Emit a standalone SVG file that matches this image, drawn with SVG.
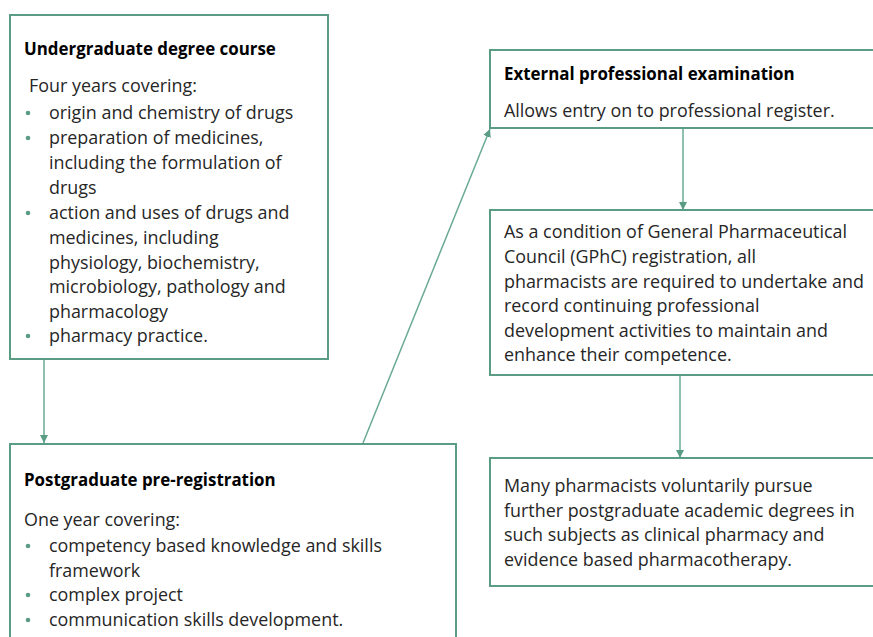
<svg xmlns="http://www.w3.org/2000/svg" width="873" height="637" viewBox="0 0 873 637">
<defs>
<style>
.box{fill:#ffffff;stroke:#5a9c84;stroke-width:2}
.t{font-family:"Open Sans",Lato,sans-serif;font-size:17.9px;fill:#262626}
.b{font-weight:bold;fill:#000000;font-size:16.9px}
.bul{fill:#5a9c84}
.con{stroke:#6aaa94;stroke-width:1.5;fill:none}
</style>
<marker id="ah" viewBox="0 0 10 10" refX="10" refY="5" markerWidth="8" markerHeight="8" markerUnits="userSpaceOnUse" orient="auto">
<path d="M0,0 L10,5 L0,10 z" fill="#5a9c84"/>
</marker>
</defs>
<rect width="873" height="637" fill="#ffffff"/>
<g id="connectors">
<line class="con" x1="44" y1="360" x2="44" y2="443" marker-end="url(#ah)"/>
<line class="con" x1="363" y1="443" x2="490" y2="129" marker-end="url(#ah)"/>
<line class="con" x1="683" y1="129" x2="683" y2="210" marker-end="url(#ah)"/>
<line class="con" x1="680" y1="376" x2="680" y2="458" marker-end="url(#ah)"/>
</g>
<g id="undergrad">
<rect class="box" x="10" y="15" width="318" height="344"/>
<text class="t b" x="24" y="55">Undergraduate degree course</text>
<text class="t" x="29" y="92">Four years covering:</text>
<g class="bul"><circle cx="28" cy="113" r="2.3"/><circle cx="28" cy="138" r="2.3"/><circle cx="28" cy="213" r="2.3"/><circle cx="28" cy="336" r="2.3"/></g>
<text class="t" x="49" y="119">origin and chemistry of drugs</text>
<text class="t" x="49" y="144">preparation of medicines,</text>
<text class="t" x="49" y="169">including the formulation of</text>
<text class="t" x="49" y="194">drugs</text>
<text class="t" x="49" y="219">action and uses of drugs and</text>
<text class="t" x="49" y="244">medicines, including</text>
<text class="t" x="49" y="269">physiology, biochemistry,</text>
<text class="t" x="49" y="293">microbiology, pathology and</text>
<text class="t" x="49" y="318">pharmacology</text>
<text class="t" x="49" y="342">pharmacy practice.</text>
</g>
<g id="postgrad">
<rect class="box" x="10" y="444" width="446" height="210"/>
<text class="t b" x="24" y="486">Postgraduate pre-registration</text>
<text class="t" x="24" y="526">One year covering:</text>
<g class="bul"><circle cx="28" cy="546" r="2.3"/><circle cx="28" cy="595" r="2.3"/><circle cx="28" cy="620" r="2.3"/></g>
<text class="t" x="49" y="552">competency based knowledge and skills</text>
<text class="t" x="49" y="577">framework</text>
<text class="t" x="49" y="601">complex project</text>
<text class="t" x="49" y="626">communication skills development.</text>
</g>
<g id="exam">
<rect class="box" x="490" y="50" width="400" height="78"/>
<text class="t b" x="504" y="80">External professional examination</text>
<text class="t" x="504" y="117">Allows entry on to professional register.</text>
</g>
<g id="cpd">
<rect class="box" x="490" y="210" width="400" height="165"/>
<text class="t" x="504" y="238">As a condition of General Pharmaceutical</text>
<text class="t" x="504" y="263">Council (GPhC) registration, all</text>
<text class="t" x="504" y="288">pharmacists are required to undertake and</text>
<text class="t" x="504" y="312">record continuing professional</text>
<text class="t" x="504" y="337">development activities to maintain and</text>
<text class="t" x="504" y="361">enhance their competence.</text>
</g>
<g id="further">
<rect class="box" x="490" y="458" width="400" height="128"/>
<text class="t" x="504" y="492">Many pharmacists voluntarily pursue</text>
<text class="t" x="504" y="517">further postgraduate academic degrees in</text>
<text class="t" x="504" y="541">such subjects as clinical pharmacy and</text>
<text class="t" x="504" y="566">evidence based pharmacotherapy.</text>
</g>
</svg>
